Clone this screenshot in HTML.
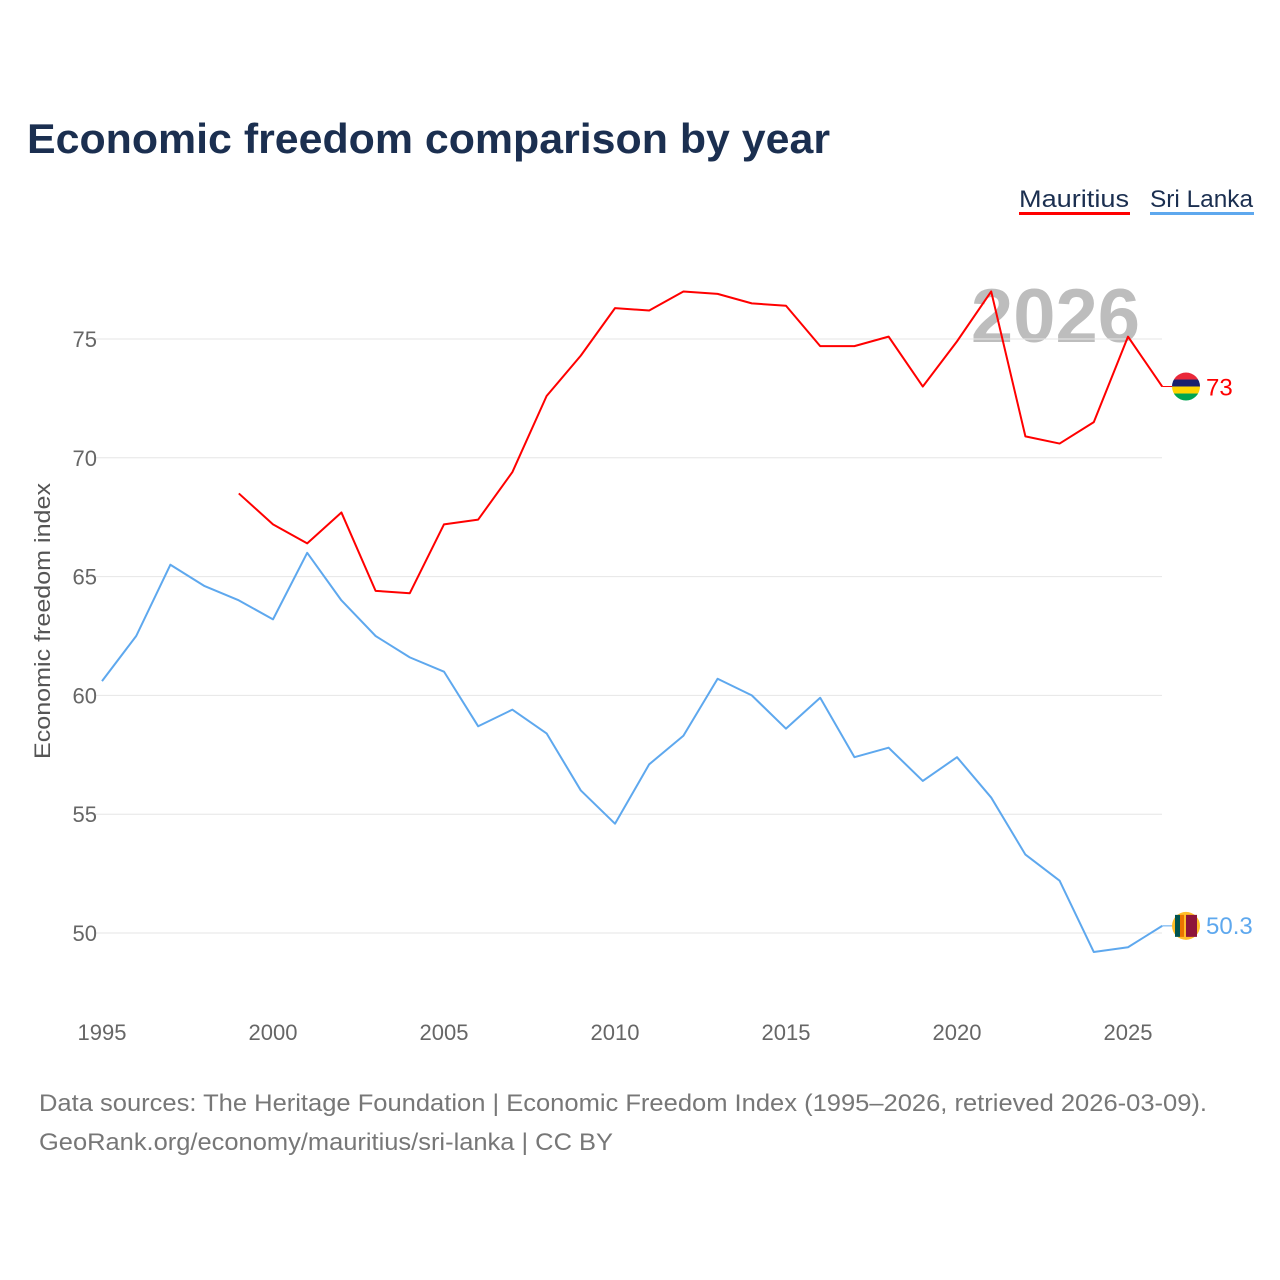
<!DOCTYPE html>
<html><head><meta charset="utf-8">
<style>
body{margin:0;background:#fff;width:1280px;height:1280px;overflow:hidden;font-family:"Liberation Sans",sans-serif}
svg{position:absolute;left:0;top:0}
</style></head>
<body>
<svg id="chart" width="1280" height="1280" xmlns="http://www.w3.org/2000/svg">
<text x="27" y="153" font-size="42" font-weight="bold" fill="#1b2f50" textLength="803" lengthAdjust="spacingAndGlyphs">Economic freedom comparison by year</text>
<g>
<text x="1019" y="207" font-size="24" fill="#1b2f50" textLength="110" lengthAdjust="spacingAndGlyphs">Mauritius</text>
<rect x="1019" y="212" width="111" height="3" fill="#ff0000"/>
</g>
<g>
<text x="1150" y="207" font-size="24" fill="#1b2f50" textLength="103" lengthAdjust="spacingAndGlyphs">Sri Lanka</text>
<rect x="1150" y="212" width="104" height="3" fill="#5ea8ee"/>
</g>
<text x="1140" y="342" text-anchor="end" font-size="76" font-weight="bold" fill="#bdbdbd">2026</text>
<g id="grid"></g>
<g id="series"></g>
<text transform="translate(50,621) rotate(-90)" text-anchor="middle" font-size="22" fill="#555" textLength="276" lengthAdjust="spacingAndGlyphs">Economic freedom index</text>
<text x="39" y="1111" font-size="24" fill="#777" textLength="1168" lengthAdjust="spacingAndGlyphs">Data sources: The Heritage Foundation | Economic Freedom Index (1995–2026, retrieved 2026-03-09).</text>
<text x="39" y="1150" font-size="24" fill="#777" textLength="574" lengthAdjust="spacingAndGlyphs">GeoRank.org/economy/mauritius/sri-lanka | CC BY</text>
</svg>
<script>
const years=[1995,1996,1997,1998,1999,2000,2001,2002,2003,2004,2005,2006,2007,2008,2009,2010,2011,2012,2013,2014,2015,2016,2017,2018,2019,2020,2021,2022,2023,2024,2025,2026];
const mauritius=[null,null,null,null,68.5,67.2,66.4,67.7,64.4,64.3,67.2,67.4,69.4,72.6,74.3,76.3,76.2,77.0,76.9,76.5,76.4,74.7,74.7,75.1,73.0,74.9,77.0,70.9,70.6,71.5,75.1,73.0];
const sriLanka=[60.6,62.5,65.5,64.6,64.0,63.2,66.0,64.0,62.5,61.6,61.0,58.7,59.4,58.4,56.0,54.6,57.1,58.3,60.7,60.0,58.6,59.9,57.4,57.8,56.4,57.4,55.7,53.3,52.2,49.2,49.4,50.3];
const yTicks=[50,55,60,65,70,75];
const xTicks=[1995,2000,2005,2010,2015,2020,2025];
const NS="http://www.w3.org/2000/svg";
const x=v=>102+(v-1995)*(1128-102)/30;
const y=v=>339+(75-v)*(933-339)/25;
function mk(t,a,p){const e=document.createElementNS(NS,t);for(const k in a)e.setAttribute(k,a[k]);p.appendChild(e);return e;}
const grid=document.getElementById('grid'),ser=document.getElementById('series');
yTicks.forEach(t=>{
 const l=mk('line',{x1:95,x2:1162,y1:y(t),y2:y(t),stroke:'#e6e6e6','stroke-width':1},grid);
 
 
 const tx=mk('text',{x:97,y:y(t)+8,'text-anchor':'end','font-size':22,fill:'#666'},grid);tx.textContent=t;
 
 
});
xTicks.forEach(t=>{
 const tx=mk('text',{x:x(t),y:1040,'text-anchor':'middle','font-size':22,fill:'#666'},grid);tx.textContent=t;
 
 
});
function line(vals,color,name){
 let d='';let pen=false;
 vals.forEach((v,i)=>{if(v==null){pen=false;return;}d+=(pen?'L':'M')+x(years[i])+','+y(v);pen=true;});
 const p=mk('path',{d:d,fill:'none',stroke:color,'stroke-width':2,'stroke-linejoin':'round'},ser);
 
 
 const last=vals[vals.length-1];const ly=y(last);
 mk('line',{x1:x(years[years.length-1]),x2:1172,y1:ly,y2:ly,stroke:color,'stroke-width':1},ser);
 return ly;
}
const my=line(mauritius,'#ff0000','mauritius');
const sy=line(sriLanka,'#5ea8ee','sri-lanka');
const fm=mk('g',{},ser);


const cp=mk('clipPath',{id:'cm'},fm);
mk('circle',{cx:1186,cy:my,r:14},cp);
['#ea2839','#1a206d','#ffd500','#00a551'].forEach((c,i)=>mk('rect',{x:1172,y:my-14+i*7,width:28,height:7,fill:c,'clip-path':'url(#cm)'},fm));
const lm=mk('text',{x:1206,y:my+9,'font-size':24,fill:'#ff0000'},ser);lm.textContent=mauritius[mauritius.length-1];


const fs=mk('g',{},ser);


mk('circle',{cx:1186,cy:sy,r:14,fill:'#ffbe29'},fs);
mk('rect',{x:1175,y:sy-11,width:5,height:22,fill:'#00534e'},fs);
mk('rect',{x:1180,y:sy-11,width:4,height:22,fill:'#eb7400'},fs);
mk('rect',{x:1186,y:sy-11,width:11,height:22,fill:'#8d153a'},fs);
const ls=mk('text',{x:1206,y:sy+8,'font-size':24,fill:'#5ea8ee'},ser);ls.textContent=sriLanka[sriLanka.length-1];


</script>
</body></html>
